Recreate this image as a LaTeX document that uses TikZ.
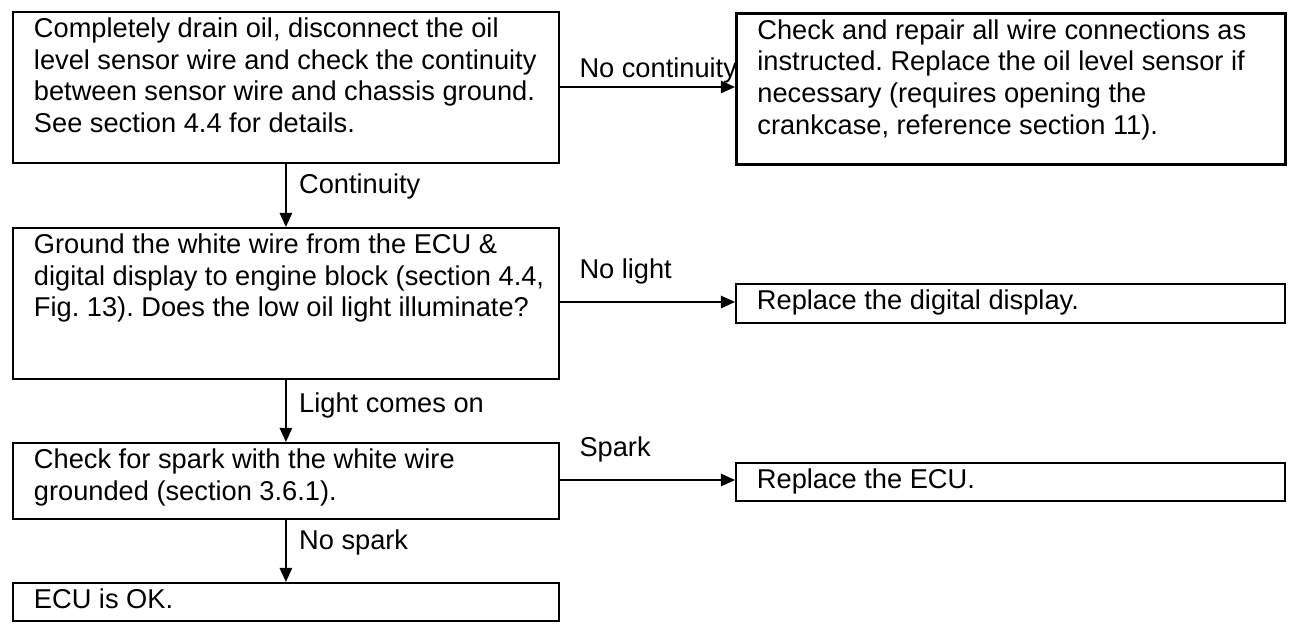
\documentclass[tikz,border=0pt]{standalone}
\usepackage{fontspec}
\setmainfont{Liberation Sans}
\usetikzlibrary{arrows.meta}

\newcommand{\stepbody}[3]{\hspace*{0.42cm}\parbox[t][#2][t]{\dimexpr#1-0.5cm\relax}{\raggedright\hyphenpenalty=10000 \exhyphenpenalty=10000 \frenchspacing\vspace*{0.12cm}#3}\hspace*{0.08cm}}

\tikzset{
  stepbox/.style={draw, line width=1.1pt, anchor=north west, inner sep=0pt,
    font=\fontsize{15.5}{18}\selectfont},
  flow/.style={-{Triangle[length=8pt,width=7pt]}, line width=1.1pt},
  tag/.style={font=\fontsize{15.5}{18}\selectfont, inner sep=1pt}
}

\begin{document}
\begin{tikzpicture}[x=0.02cm,y=-0.02cm]
\useasboundingbox (0,0) rectangle (1290,626);

%% left column
\node [stepbox] (drain) at (12,11)
  {\stepbody{10.92cm}{3.02cm}{Completely drain oil, disconnect the oil level sensor wire and check the continuity between sensor wire and chassis ground. See section 4.4 for details.}};
\node [stepbox] (ground) at (12,227)
  {\stepbody{10.92cm}{3.02cm}{Ground the white wire from the ECU \& digital display to engine block (section 4.4, Fig. 13). Does the low oil light illuminate?}};
\node [stepbox] (spark) at (12,442)
  {\stepbody{10.92cm}{1.52cm}{Check for spark with the white wire grounded (section 3.6.1).}};
\node [stepbox] (ecuok) at (12,582)
  {\stepbody{10.92cm}{0.76cm}{ECU is OK.}};

%% right column
\node [stepbox, line width=1.6pt] (repair) at (735,12)
  {\stepbody{10.98cm}{3.02cm}{Check and repair all wire connections as instructed. Replace the oil level sensor if necessary (requires opening the crankcase, reference section 11).}};
\node [stepbox] (display) at (735,283)
  {\stepbody{10.98cm}{0.78cm}{Replace the digital display.}};
\node [stepbox] (ecu) at (735,462)
  {\stepbody{10.98cm}{0.76cm}{Replace the ECU.}};

%% connectors
\draw [flow] (drain.east |- 0,87) coordinate (c1) -- (c1 -| repair.west);
\node [tag, anchor=south west] (nocont) at ([xshift=10pt,yshift=1pt]c1) {No continuity};
\draw [flow] (drain.south) -- node [tag, right, xshift=6pt, yshift=5pt] {Continuity} (ground.north);
\draw [flow] (ground.east |- 0,302) coordinate (c2) -- (c2 -| display.west);
\node [tag, anchor=south west] (nolight) at ([xshift=10pt,yshift=9pt]c2) {No light};
\draw [flow] (ground.south) -- node [tag, right, xshift=6pt, yshift=3pt] {Light comes on} (spark.north);
\draw [flow] (spark.east |- 0,480) coordinate (c3) -- (c3 -| ecu.west);
\node [tag, anchor=south west] (sparkyes) at ([xshift=10pt,yshift=9pt]c3) {Spark};
\draw [flow] (spark.south) -- node [tag, right, xshift=6pt, yshift=5pt] {No spark} (ecuok.north);

\end{tikzpicture}
\end{document}
